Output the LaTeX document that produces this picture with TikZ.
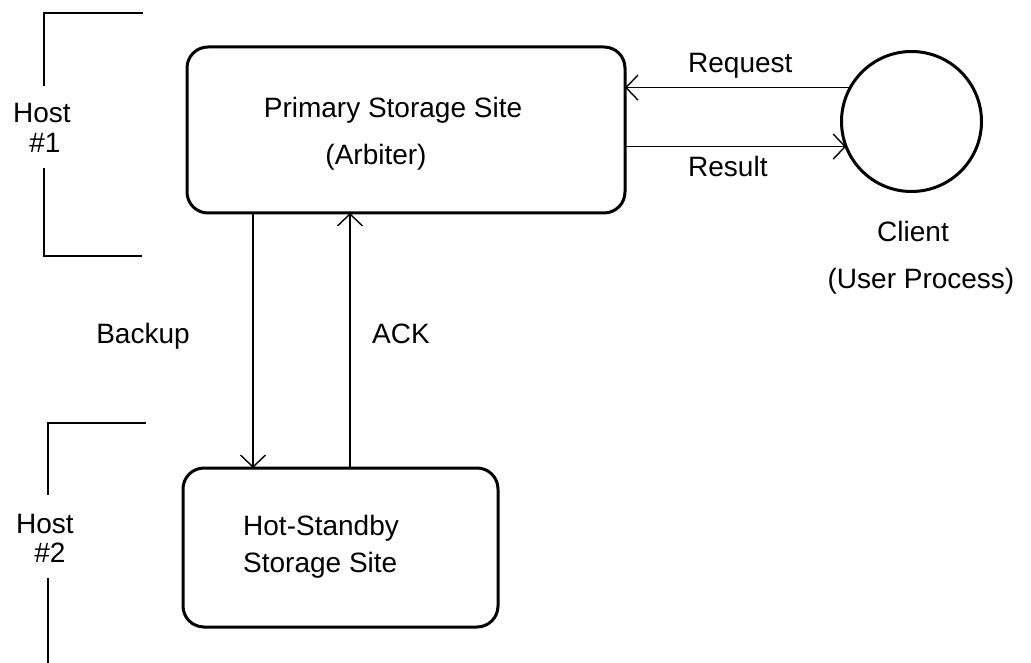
\documentclass[tikz,border=0pt]{standalone}
\usepackage{fontspec}
\setmainfont{Liberation Sans}
\usetikzlibrary{arrows.meta}
\begin{document}
\begin{tikzpicture}[x=1pt,y=-1pt,
  site/.style={draw,line width=3pt,rounded corners=21pt,inner sep=0pt,outer sep=0pt},
  proc/.style={draw,circle,line width=3pt,inner sep=0pt,outer sep=0pt,minimum size=140pt},
  txt/.style={inner sep=0pt,anchor=base,font=\fontsize{28}{34}\selectfont},
  bracket/.style={line width=1.5pt},
  flow/.style={line width=1.4pt,-{Straight Barb[length=12pt,width=25pt]}}
]
\useasboundingbox (0,0) rectangle (1031,663);

% storage sites and the client process
\node[site,minimum width=438pt,minimum height=166pt] (primary) at (406,130) {};
\node[site,minimum width=315pt,minimum height=159pt] (standby) at (340.5,547.5) {};
\node[proc] (client) at (911.5,121.5) {};

% texts inside and beside the shapes
\node[txt] (ptitle) at (393,118) {Primary Storage Site};
\node[txt] (parb) at (376,165) {(Arbiter)};
\node[txt,anchor=base west] (stitle) at (243,535) {Hot-Standby};
\node[txt,anchor=base west] (ssub) at (243,572) {Storage Site};
\node[txt] (cname) at (913,242) {Client};
\node[txt] (cproc) at (921,288) {(User Process)};

% host groupings
\node[txt] (host1a) at (42,123) {Host};
\node[txt] (host1b) at (45,153) {\#1};
\node[txt] (host2a) at (45,533) {Host};
\node[txt] (host2b) at (50,562) {\#2};
\draw[bracket] (143,13) -| (44,86);
\draw[bracket] (44,168) |- (142,256);
\draw[bracket] (146,423) -| (48,495);
\draw[bracket] (48,578) -- (48,663);

% message flows
\coordinate (bx) at (253,0);
\coordinate (ax) at (350,0);
\draw[flow] (primary.south -| bx) -- (standby.north -| bx);
\draw[flow] (standby.north -| ax) -- (primary.south -| ax);
\draw[flow] (client.151.4) -- (client.151.4 -| primary.east);
\draw[flow] (primary.east |- client.201.4) -- (client.201.4);

% flow labels
\node[txt,anchor=base west] (lreq) at (688,73) {Request};
\node[txt,anchor=base west] (lres) at (688,177) {Result};
\node[txt] (lbak) at (143,343) {Backup};
\node[txt] (lack) at (401,343) {ACK};
\end{tikzpicture}
\end{document}
